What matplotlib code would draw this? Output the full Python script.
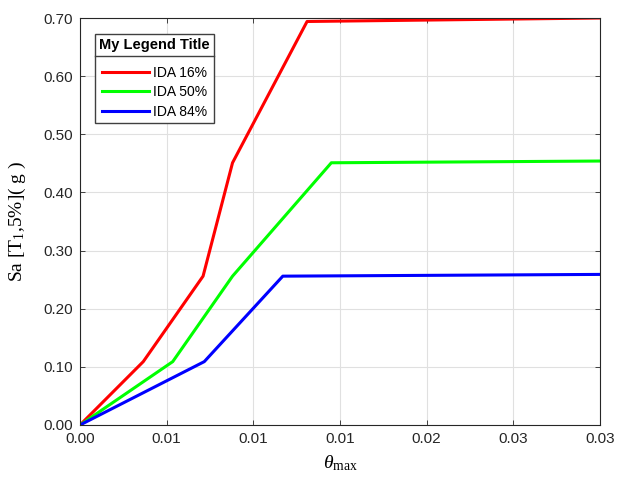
import numpy as np
import matplotlib
matplotlib.use('Agg')
import matplotlib.pyplot as plt
from matplotlib.lines import Line2D
from matplotlib.ticker import FormatStrFormatter

# IDA curves (theta_max vs Sa)
red_x = [0, 0.00365, 0.0071, 0.0088, 0.0131, 0.03]
red_y = [0, 0.109, 0.256, 0.451, 0.694, 0.700]
green_x = [0, 0.00535, 0.0088, 0.0145, 0.03]
green_y = [0, 0.109, 0.256, 0.451, 0.454]
blue_x = [0, 0.00717, 0.0117, 0.03]
blue_y = [0, 0.109, 0.256, 0.259]
labels = ['IDA 16%', 'IDA 50%', 'IDA 84%']
x_ticks = [0, 0.005, 0.01, 0.015, 0.02, 0.025, 0.03]
y_ticks = [0, 0.1, 0.2, 0.3, 0.4, 0.5, 0.6, 0.7]

plt.rcParams['font.family'] = ['Liberation Sans', 'DejaVu Sans']
plt.rcParams['mathtext.fontset'] = 'custom'
plt.rcParams['mathtext.rm'] = 'Liberation Serif'
plt.rcParams['mathtext.it'] = 'Liberation Serif:italic'

axcol = '#262626'

fig = plt.figure(figsize=(6.17, 4.8), dpi=100)
ax = fig.add_axes([80/617, 55/480, 520/617, 407/480])

ax.plot(red_x, red_y, color=(1, 0, 0), lw=2.2, label=labels[0])
ax.plot(green_x, green_y, color=(0, 1, 0), lw=2.2, label=labels[1])
ax.plot(blue_x, blue_y, color=(0, 0, 1), lw=2.2, label=labels[2])

ax.set_xlim(0, 0.03)
ax.set_ylim(0, 0.7)
ax.set_xticks(x_ticks)
ax.set_yticks(y_ticks)
ax.xaxis.set_major_formatter(FormatStrFormatter('%.2f'))
ax.yaxis.set_major_formatter(FormatStrFormatter('%.2f'))
ax.tick_params(direction='in', length=3.6, width=0.6, colors=axcol,
               labelsize=11, top=True, right=True, pad=5)
for s in ax.spines.values():
    s.set_color(axcol)
    s.set_linewidth(0.8)
ax.grid(True, color='#e0e0e0', lw=0.8)
ax.set_axisbelow(True)

ax.set_xlabel(r'$\theta_{\mathrm{max}}$', fontsize=14, labelpad=5)
ax.set_ylabel(r'Sa [$\mathrm{T}_\mathrm{1}$,5%]( g )', fontname='Liberation Serif',
              fontsize=14, labelpad=11)

leg = ax.legend(loc='upper left', bbox_to_anchor=(95/617, 1 - 34/480),
                bbox_transform=fig.transFigure, borderaxespad=0,
                title='My Legend Title', title_fontproperties={'weight': 'bold', 'size': 10.5},
                fontsize=10, fancybox=False, framealpha=1, edgecolor='#404040',
                handlelength=3.4, handletextpad=0.3, labelspacing=0.38, borderpad=0.3)
leg.get_frame().set_linewidth(1.0)
# more room between the title and the entries
leg._legend_box.sep = 10

# separator under the legend title
fig.canvas.draw()
r = fig.canvas.get_renderer()
fb = leg.get_frame().get_window_extent(r)
tb = leg.get_title().get_window_extent(r)
ysep = tb.y0 - 4
inv = fig.transFigure.inverted()
p0 = inv.transform((fb.x0, ysep))
p1 = inv.transform((fb.x1, ysep))
fig.add_artist(Line2D([p0[0], p1[0]], [p0[1], p1[1]], transform=fig.transFigure,
                      color='#404040', lw=1.0))

fig.savefig('out.png', dpi=100)
